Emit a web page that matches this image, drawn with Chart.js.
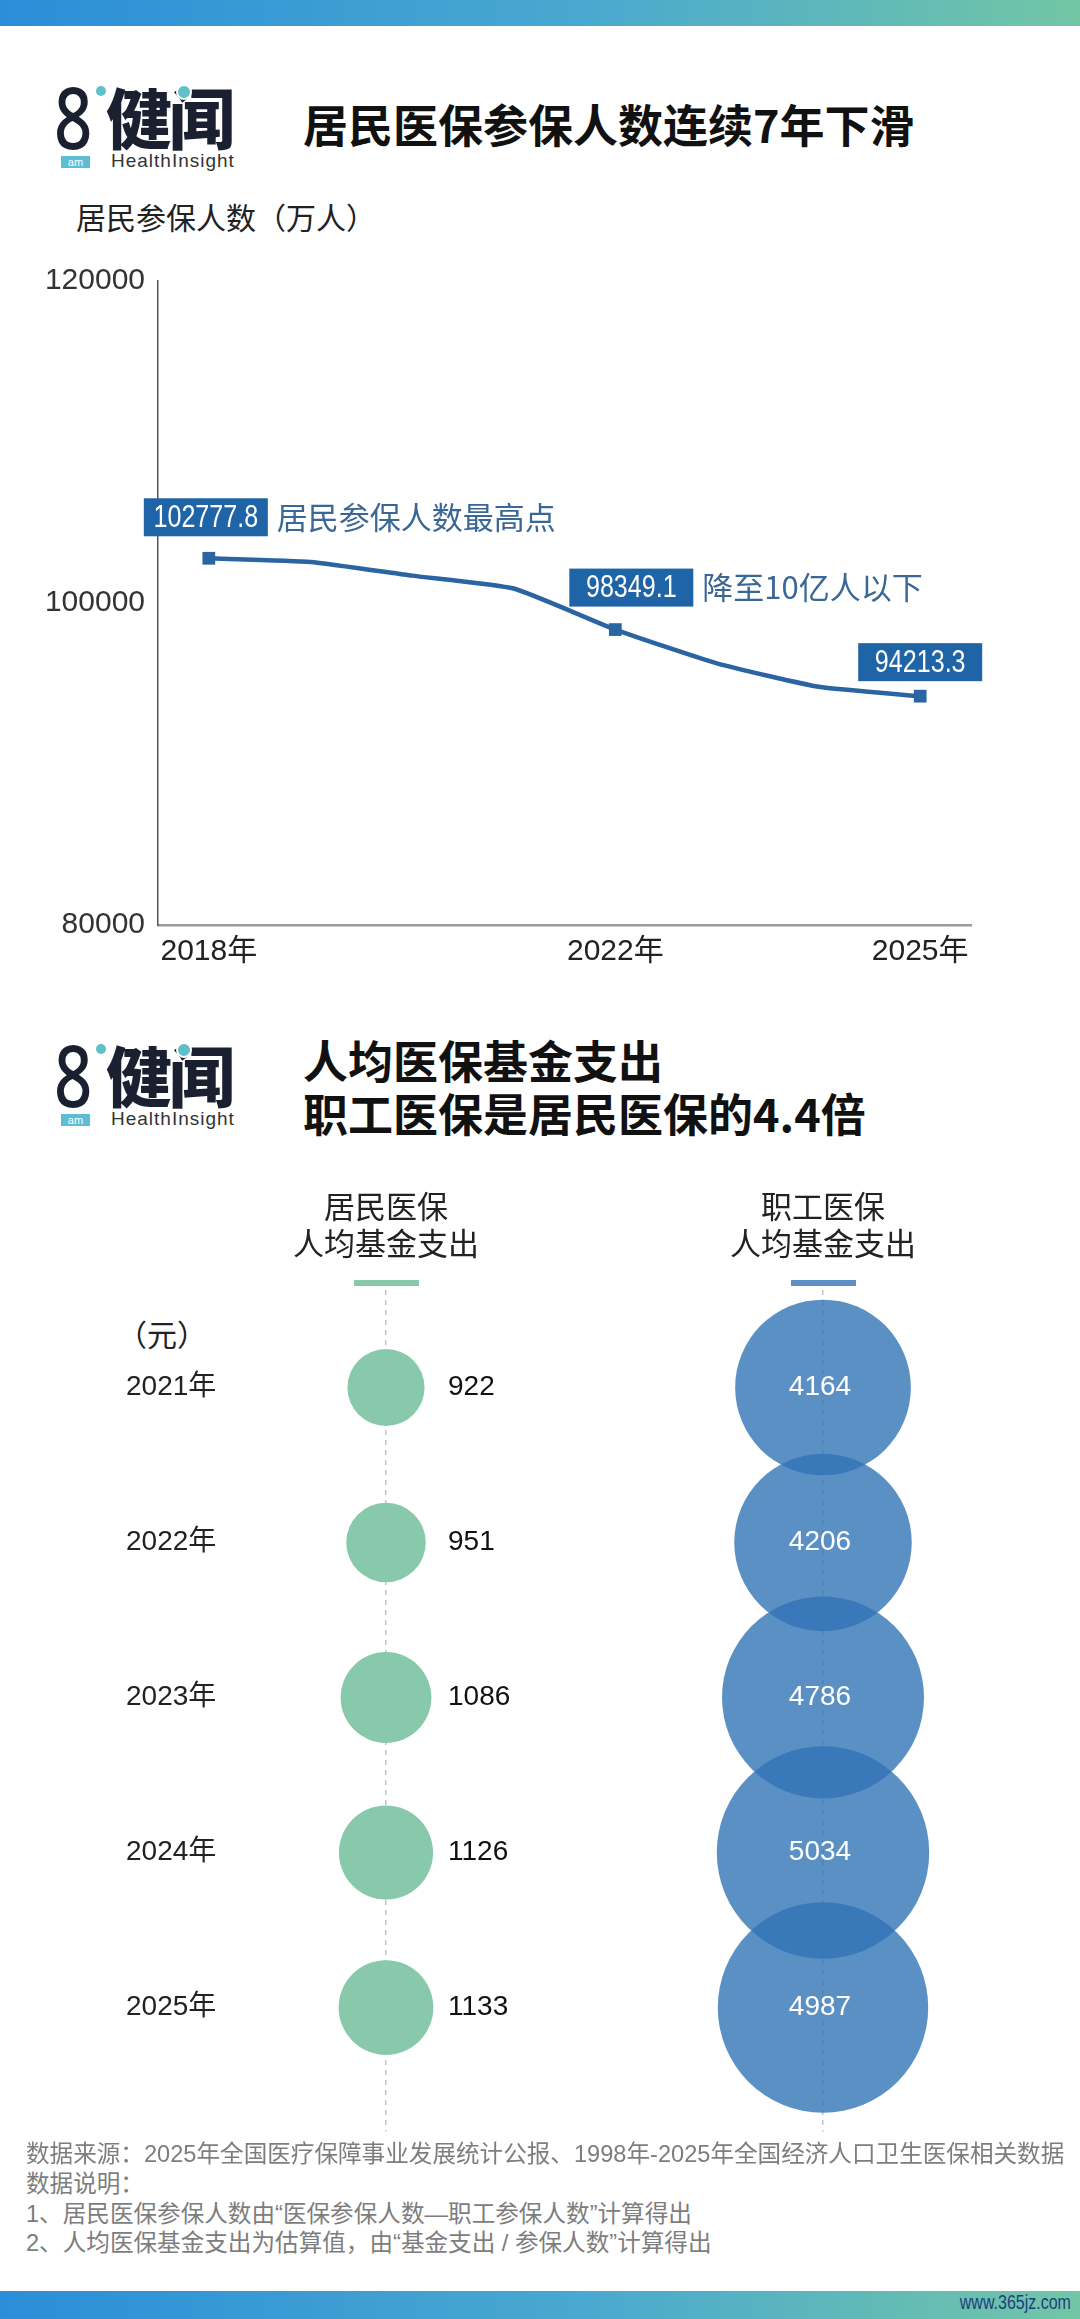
<!DOCTYPE html>
<html>
<head>
<meta charset="utf-8">
<script src="https://cdn.jsdelivr.net/npm/chart.js@4.4.1/dist/chart.umd.min.js"></script>
<style>
  html, body { margin: 0; padding: 0; background: #fff; }
  body { width: 1080px; height: 2319px; position: relative; overflow: hidden;
         font-family: "Noto Sans CJK SC", "Noto Sans", sans-serif; color: #111; }
  .t { position: absolute; white-space: nowrap; line-height: 1; }
  .bar { position: absolute; left: 0; width: 1080px;
         background: linear-gradient(90deg, #2b8ed8 0%, #4aa9cf 55%, #72c6a5 100%); }
  .title { font-size: 45px; font-weight: 700; color: #111; }
  .dot { position: absolute; border-radius: 50%; background: #5ec0c9; }
  .logo8 { font-family: "Noto Sans", sans-serif; font-size: 86px; font-weight: 500; color: #1b2030;
           transform: scaleX(0.78); transform-origin: left top; }
  .logoCn { font-size: 66px; font-weight: 900; color: #1b2030; letter-spacing: -3px; }
  .am { position: absolute; width: 29px; height: 12px; background: #5cbdd4; color: #fff;
        font: 11px/12px "Liberation Sans", sans-serif; text-align: center; }
  .hi { font-family: "Liberation Sans", sans-serif; font-size: 19px; color: #333; letter-spacing: 1px; }
  .foot { font-family: "Liberation Sans", "Noto Sans CJK SC", sans-serif; font-size: 23.6px; color: #7d7d7d; }
  canvas { position: absolute; left: 0; }
</style>
</head>
<body>
<div class="bar" style="top:0;height:26px"></div>

<!-- logo, first panel -->
<div class="t logo8" style="left:54px;top:73px">8</div>
<div class="dot" style="left:96px;top:86px;width:10px;height:10px"></div>
<div class="t logoCn" style="left:106px;top:82px">健闻</div>
<div class="dot" style="left:176px;top:84px;width:12px;height:12px;border:2px solid #fff"></div>
<div class="am" style="left:61px;top:156px">am</div>
<div class="t hi" style="left:111px;top:151px">HealthInsight</div>
<div class="t title" style="left:303px;top:101px">居民医保参保人数连续7年下滑</div>
<div class="t" style="left:76px;top:201px;font-size:30px;color:#222">居民参保人数（万人）</div>

<canvas id="lineChart" width="1080" height="730" style="top:250px"></canvas>

<!-- logo, second panel -->
<div class="t logo8" style="left:54px;top:1031px">8</div>
<div class="dot" style="left:96px;top:1044px;width:10px;height:10px"></div>
<div class="t logoCn" style="left:106px;top:1040px">健闻</div>
<div class="dot" style="left:176px;top:1042px;width:12px;height:12px;border:2px solid #fff"></div>
<div class="am" style="left:61px;top:1114px">am</div>
<div class="t hi" style="left:111px;top:1109px">HealthInsight</div>
<div class="t title" style="left:303px;top:1037px">人均医保基金支出</div>
<div class="t title" style="left:303px;top:1090px">职工医保是居民医保的4.4倍</div>
<div class="t" style="left:117px;top:1318px;font-size:30px;color:#222">（元）</div>

<canvas id="bubbleChart" width="1080" height="1000" style="top:1150px"></canvas>

<div class="t foot" style="left:26px;top:2143px">数据来源：2025年全国医疗保障事业发展统计公报、1998年-2025年全国经济人口卫生医保相关数据</div>
<div class="t foot" style="left:26px;top:2173px">数据说明：</div>
<div class="t foot" style="left:26px;top:2203px">1、居民医保参保人数由“医保参保人数—职工参保人数”计算得出</div>
<div class="t foot" style="left:26px;top:2232px">2、人均医保基金支出为估算值，由“基金支出 / 参保人数”计算得出</div>

<div class="bar" style="top:2291px;height:28px"></div>
<div class="t" style="right:9px;top:2291px;font:20px 'Liberation Sans',sans-serif;color:#1e3f7e;transform:scaleX(0.8);transform-origin:right top">www.365jz.com</div>

<script>
// residents insured, 10k people (labelled points exact)
const years = ['2018年', '2019年', '2020年', '2021年', '2022年', '2023年', '2024年', '2025年'];
const insured = [102777.8, 102550, 101700, 100900, 98349.1, 96250, 94800, 94213.3];
const yTicks = [80000, 100000, 120000];

// annotated points
const noteYears = ['2018年', '2022年', '2025年'];
const noteTexts = ['居民参保人数最高点', '降至10亿人以下', ''];

// per-capita fund spending, yuan
const payYears = [2021, 2022, 2023, 2024, 2025];
const groups = ['居民医保', '职工医保'];
const headerLines = [['居民医保', '人均基金支出'], ['职工医保', '人均基金支出']];
const residentPay = [922, 951, 1086, 1126, 1133];
const employeePay = [4164, 4206, 4786, 5034, 4987];

const lineBlue = '#2a64a3';
const boxBlue = '#1f64a6';
const green = '#87c9aa';
const blueFill = 'rgba(50,116,183,0.8)';
const latin = '"Liberation Sans", "Noto Sans CJK SC", sans-serif';
const cjk = '"Noto Sans CJK SC", sans-serif';

// label boxes: top-left corner relative to the marked point
const noteOffsets = [{ dx: -65, dy: -60 }, { dx: -46, dy: -61 }, { dx: -62, dy: -53 }];
const boxW = 124, boxH = 38;

const notePlugin = {
    id: 'notes',
    afterDatasetsDraw(chart) {
        const { ctx } = chart;
        const meta = chart.getDatasetMeta(0);
        noteYears.forEach((yr, n) => {
            const i = years.indexOf(yr);
            const pt = meta.data[i];
            const bx = pt.x + noteOffsets[n].dx;
            const by = pt.y + noteOffsets[n].dy;
            ctx.save();
            ctx.fillStyle = boxBlue;
            ctx.fillRect(bx, by, boxW, boxH);
            // condensed digits: squeeze the regular face horizontally
            ctx.save();
            ctx.translate(bx + boxW / 2, by + boxH / 2 + 1);
            ctx.scale(0.81, 1);
            ctx.fillStyle = '#fff';
            ctx.font = '31px ' + latin;
            ctx.textAlign = 'center';
            ctx.textBaseline = 'middle';
            ctx.fillText(insured[i].toFixed(1), 0, 0);
            ctx.restore();
            if (noteTexts[n]) {
                ctx.fillStyle = '#3a6795';
                ctx.font = '31px ' + cjk;
                ctx.textAlign = 'left';
                ctx.textBaseline = 'middle';
                ctx.fillText(noteTexts[n], bx + boxW + 9, by + boxH / 2);
            }
            ctx.restore();
        });
    }
};

new Chart(document.getElementById('lineChart'), {
    type: 'line',
    data: {
        labels: years,
        datasets: [{
            data: insured,
            borderColor: lineBlue,
            borderWidth: 4.5,
            tension: 0.15,
            pointStyle: 'rect',
            pointRadius: ctx => noteYears.includes(years[ctx.dataIndex]) ? 9 : 0,
            pointBackgroundColor: lineBlue,
            pointBorderWidth: 0
        }]
    },
    options: {
        responsive: false,
        animation: false,
        events: [],
        layout: { autoPadding: false, padding: { left: 0, right: 109, top: 22, bottom: 0 } },
        plugins: { legend: { display: false }, tooltip: { enabled: false } },
        scales: {
            x: {
                offset: true,
                grid: { display: false, drawTicks: false },
                border: { color: '#9a9a9a', width: 2.5 },
                ticks: {
                    autoSkip: false, maxRotation: 0, padding: 9, color: '#222',
                    font: { family: latin, size: 30 },
                    callback: (v, i) => noteYears.includes(years[i]) ? years[i] : ''
                },
                afterFit: s => { s.height = 55; }
            },
            y: {
                min: yTicks[0], max: yTicks[yTicks.length - 1],
                afterBuildTicks: s => { s.ticks = yTicks.map(v => ({ value: v })); },
                grid: { display: false, drawTicks: false },
                border: { color: '#555', width: 1.5 },
                ticks: {
                    padding: 13, color: '#333', font: { family: latin, size: 30 },
                    callback: v => String(v)
                },
                afterFit: s => { s.width = 158; }
            }
        }
    },
    plugins: [notePlugin]
});

const residentScale = 0.0418, employeeScale = 0.0211;   // px of radius per yuan
const barColors = [green, '#5b8fc6'];

const headerBars = {
    id: 'headerBars',
    afterDraw(chart) {
        const { ctx, chartArea } = chart;
        const xs = chart.scales.x;
        groups.forEach((g, i) => {
            ctx.fillStyle = barColors[i];
            ctx.fillRect(xs.getPixelForValue(i) - 32, chartArea.top - 30, 65, 6);
        });
    }
};

const valueLabels = {
    id: 'valueLabels',
    afterDatasetsDraw(chart) {
        const { ctx } = chart;
        ctx.save();
        ctx.font = '28px ' + latin;
        ctx.textBaseline = 'middle';
        chart.getDatasetMeta(0).data.forEach((el, i) => {
            ctx.fillStyle = '#111';
            ctx.textAlign = 'left';
            ctx.fillText(residentPay[i], el.x + 62, el.y);
        });
        chart.getDatasetMeta(1).data.forEach((el, i) => {
            ctx.fillStyle = '#fff';
            ctx.textAlign = 'center';
            ctx.fillText(employeePay[i], el.x - 3, el.y);
        });
        ctx.restore();
    }
};

new Chart(document.getElementById('bubbleChart'), {
    type: 'bubble',
    data: {
        datasets: [
            {
                data: payYears.map((y, i) => ({ x: groups[0], y, r: residentPay[i] * residentScale })),
                backgroundColor: green, borderWidth: 0, clip: false
            },
            {
                data: payYears.map((y, i) => ({ x: groups[1], y, r: employeePay[i] * employeeScale })),
                backgroundColor: blueFill, borderWidth: 0, clip: false
            }
        ]
    },
    options: {
        responsive: false,
        animation: false,
        events: [],
        layout: { autoPadding: false, padding: { left: 126, right: 38.5, top: 0, bottom: 18.5 } },
        plugins: { legend: { display: false }, tooltip: { enabled: false } },
        scales: {
            x: {
                type: 'category',
                labels: groups,
                position: 'top',
                offset: true,
                grid: { color: '#c4c4c4', lineWidth: 1.5, tickLength: 20, tickColor: '#c4c4c4', tickBorderDash: [5, 5] },
                border: { display: false, dash: [5, 5] },
                ticks: {
                    padding: 28, color: '#222',
                    font: { family: cjk, size: 31, lineHeight: 1.2 },
                    callback: (v, i) => headerLines[i]
                },
                afterFit: s => { s.height = 160; }
            },
            y: {
                type: 'linear',
                reverse: true,
                min: 2020.5, max: 2025.8,
                bounds: 'data',
                afterBuildTicks: s => { s.ticks = payYears.map(v => ({ value: v })); },
                grid: { display: false, drawTicks: false },
                border: { display: false },
                ticks: {
                    mirror: true, padding: -41.5,
                    color: '#222', font: { family: latin, size: 28 },
                    callback: v => v + '年'
                },
                afterFit: s => { s.width = 41.5; }
            }
        }
    },
    plugins: [headerBars, valueLabels]
});
</script>
</body>
</html>
